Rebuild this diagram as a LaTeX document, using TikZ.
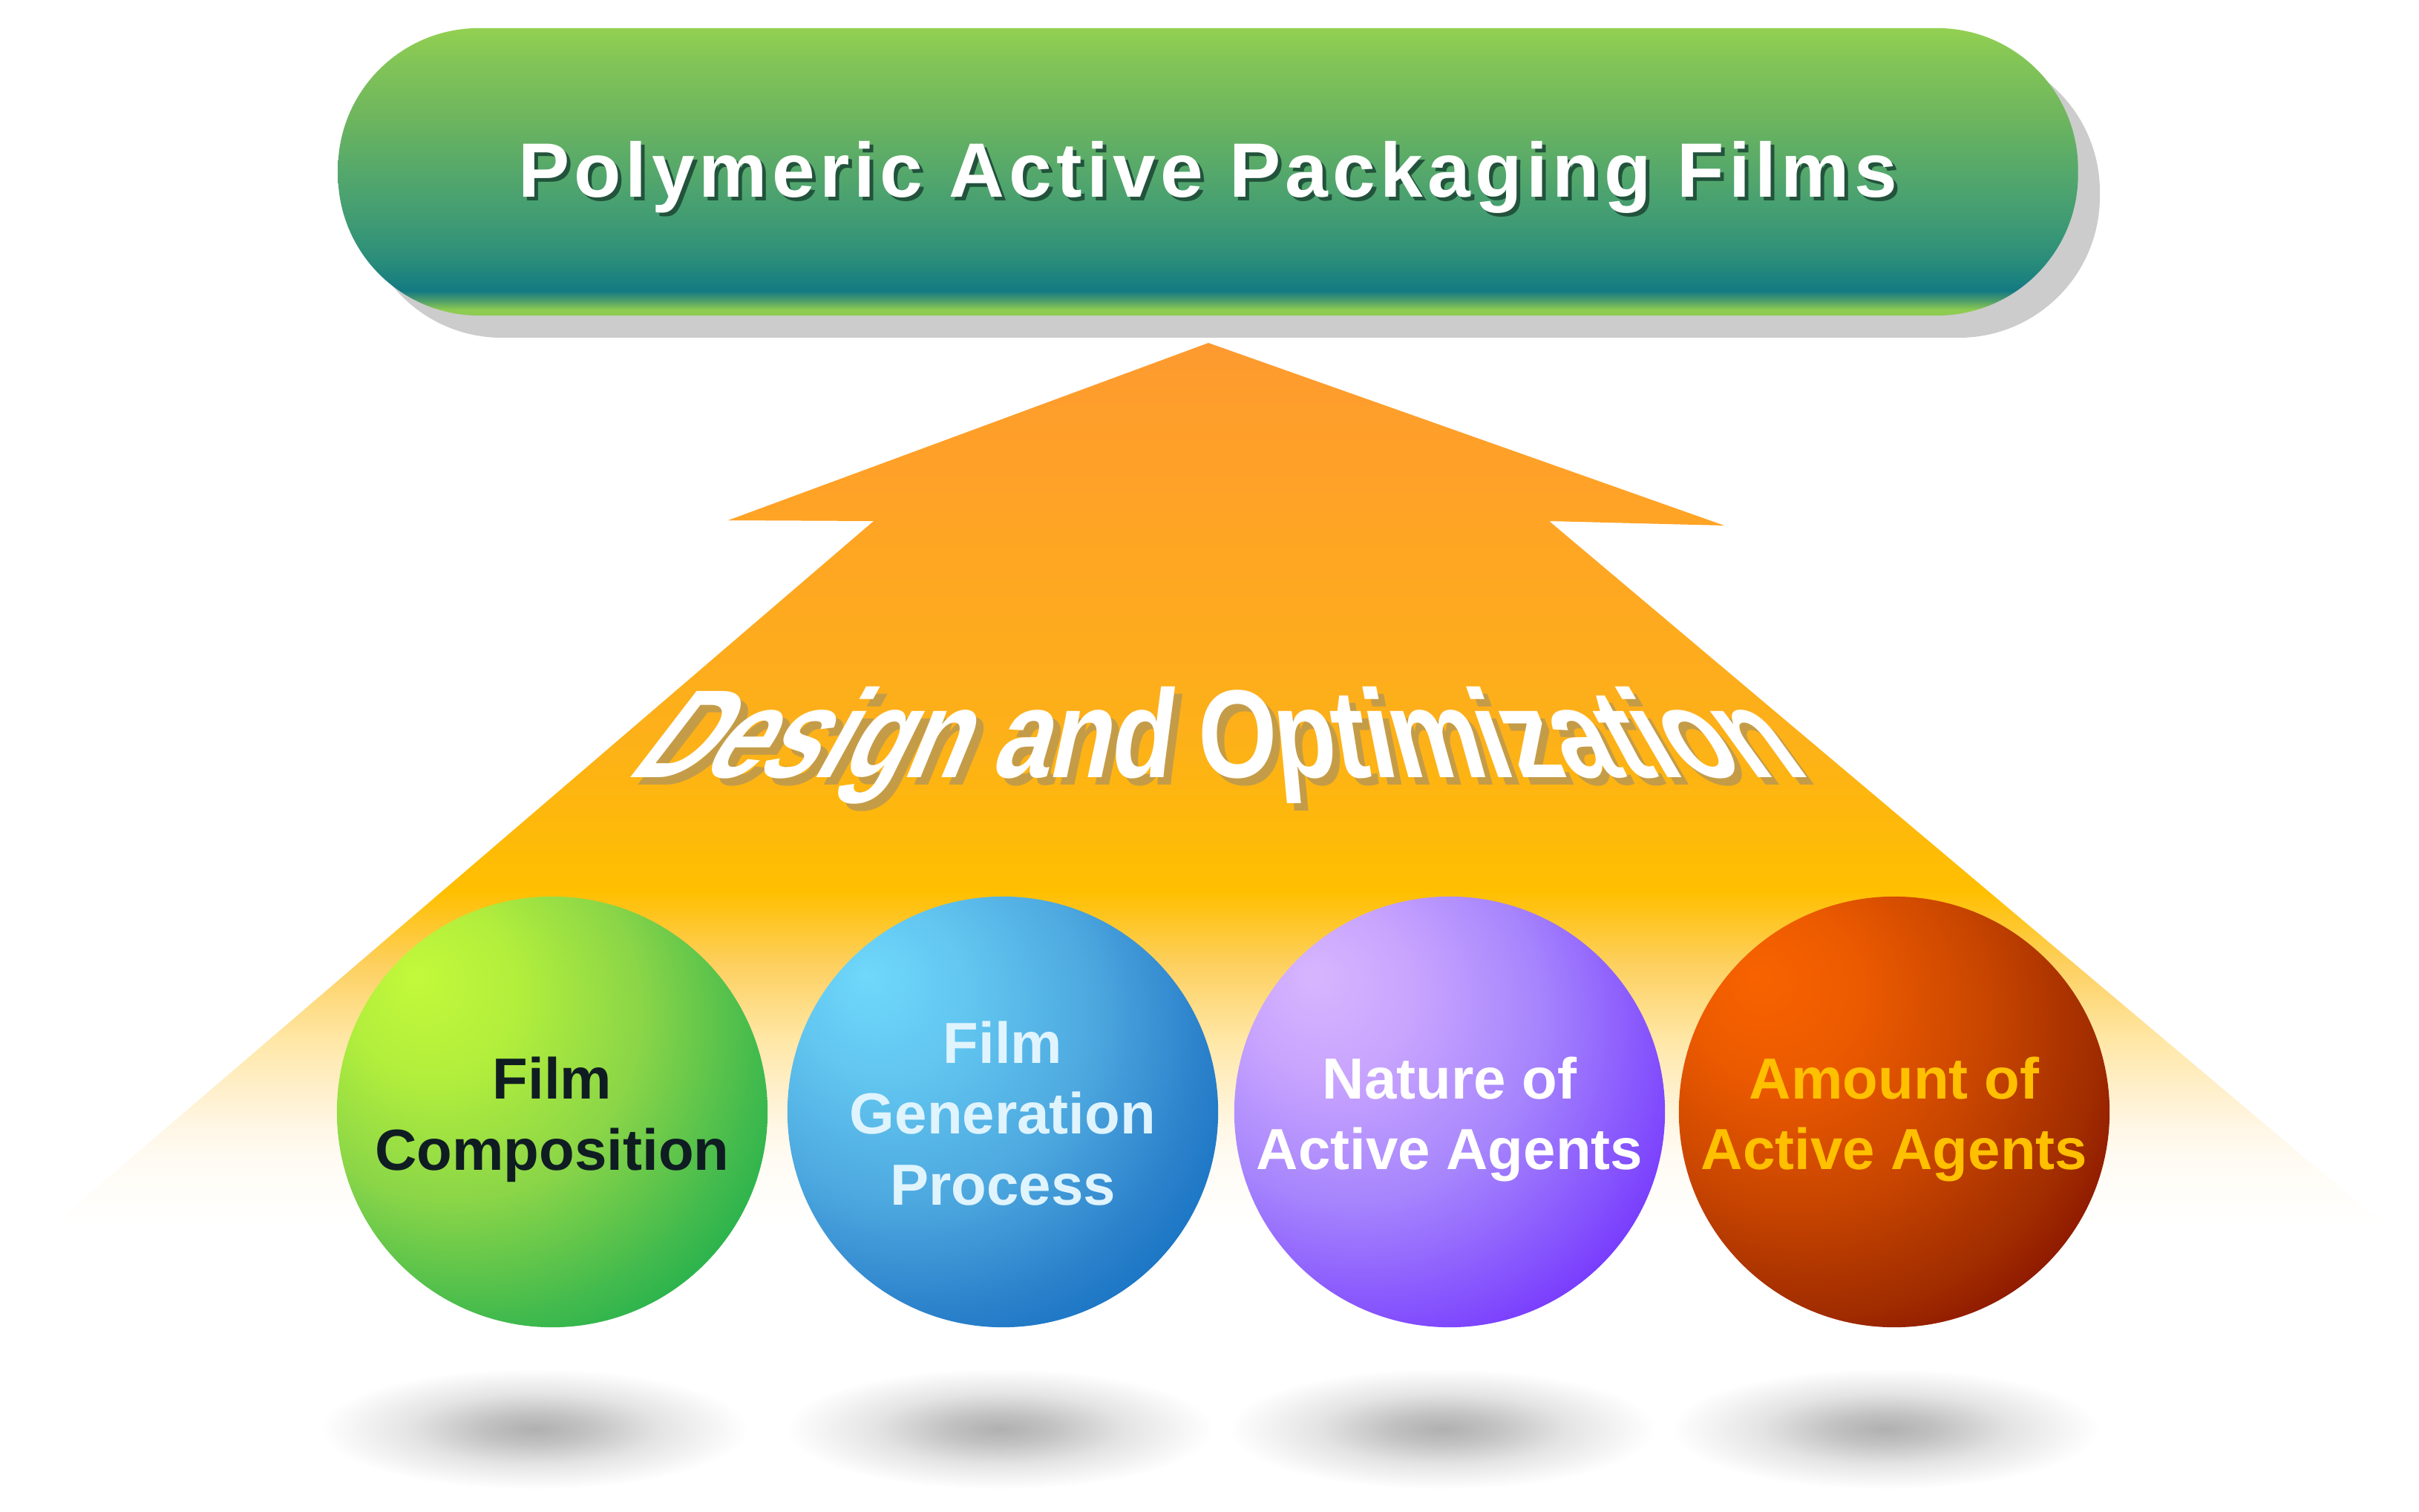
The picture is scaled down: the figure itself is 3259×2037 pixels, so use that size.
\documentclass[tikz,border=0pt]{standalone}
\usepackage{fontspec}
\setmainfont{Liberation Sans}
\usetikzlibrary{shapes.geometric}

% pill colours
\definecolor{pillA}{HTML}{8DCC50}
\definecolor{pillB}{HTML}{4F9E6A}
\definecolor{pillC}{HTML}{137A82}
\definecolor{pillD}{HTML}{2A8D7A}
\definecolor{pillE}{HTML}{3F9B74}
\definecolor{pillF}{HTML}{55A86B}
\definecolor{pillG}{HTML}{70B75D}
\definecolor{pillH}{HTML}{83C557}
\definecolor{pillI}{HTML}{93D051}
\definecolor{pillgray}{HTML}{CCCCCC}
\definecolor{titleshadow}{HTML}{22533C}
% arrow colours
\definecolor{arA}{HTML}{FFFBF3}
\definecolor{arB}{HTML}{FFF7E6}
\definecolor{arC}{HTML}{FFF0CC}
\definecolor{arD}{HTML}{FFE7A6}
\definecolor{arE}{HTML}{FDD060}
\definecolor{arF}{HTML}{FFBF00}
\definecolor{arG}{HTML}{FDB118}
\definecolor{arH}{HTML}{FFA425}
\definecolor{arI}{HTML}{FE9A2F}
\definecolor{dshadow}{RGB}{196,156,72}
% ball colours
\definecolor{gA}{HTML}{C3F93A}\definecolor{gB}{HTML}{B2EE3C}\definecolor{gC}{HTML}{8AD548}\definecolor{gD}{HTML}{45BB4D}\definecolor{gE}{HTML}{10AB4C}
\definecolor{bA}{HTML}{70D8FB}\definecolor{bB}{HTML}{62C6F0}\definecolor{bC}{HTML}{4DA8DF}\definecolor{bD}{HTML}{2B80CA}\definecolor{bE}{HTML}{0A6CC0}
\definecolor{vA}{HTML}{D8B6FE}\definecolor{vB}{HTML}{C8A4FE}\definecolor{vC}{HTML}{A685FD}\definecolor{vD}{HTML}{8552FD}\definecolor{vE}{HTML}{6A24FE}
\definecolor{oA}{HTML}{F86300}\definecolor{oB}{HTML}{EC5A00}\definecolor{oC}{HTML}{C94600}\definecolor{oD}{HTML}{A02C00}\definecolor{oE}{HTML}{7C0600}
\definecolor{txtdark}{HTML}{0F1D22}
\definecolor{txtblue}{HTML}{E0F4FE}
\definecolor{txtgold}{HTML}{FFC000}
\definecolor{shA}{HTML}{B0B0B0}\definecolor{shB}{HTML}{C2C2C2}\definecolor{shC}{HTML}{E4E4E4}

\pgfdeclareverticalshading{pillshade}{100bp}{color(0bp)=(pillA); color(26bp)=(pillA); color(27.6bp)=(pillB); color(29.3bp)=(pillC); color(34.7bp)=(pillD); color(41.2bp)=(pillE); color(50bp)=(pillF); color(60.5bp)=(pillG); color(69.6bp)=(pillH); color(75bp)=(pillI); color(100bp)=(pillI)}
\pgfdeclareverticalshading{arrowshade}{100bp}{color(0bp)=(white); color(25bp)=(white); color(28.8bp)=(arA); color(30.5bp)=(arB); color(32.6bp)=(arC); color(35.5bp)=(arD); color(39.7bp)=(arE); color(43.9bp)=(arF); color(52.4bp)=(arG); color(65bp)=(arH); color(75bp)=(arI); color(100bp)=(arI)}
\pgfdeclareradialshading{ballgreen}{\pgfpoint{-16bp}{16bp}}{color(0bp)=(gA); color(10bp)=(gB); color(22bp)=(gC); color(33bp)=(gD); color(42bp)=(gE); color(80bp)=(gE)}
\pgfdeclareradialshading{ballblue}{\pgfpoint{-16bp}{16bp}}{color(0bp)=(bA); color(10bp)=(bB); color(22bp)=(bC); color(33bp)=(bD); color(42bp)=(bE); color(80bp)=(bE)}
\pgfdeclareradialshading{ballviolet}{\pgfpoint{-16bp}{16bp}}{color(0bp)=(vA); color(10bp)=(vB); color(22bp)=(vC); color(33bp)=(vD); color(42bp)=(vE); color(80bp)=(vE)}
\pgfdeclareradialshading{ballorange}{\pgfpoint{-16bp}{16bp}}{color(0bp)=(oA); color(10bp)=(oB); color(22bp)=(oC); color(33bp)=(oD); color(42bp)=(oE); color(80bp)=(oE)}
\pgfdeclareradialshading{blurshade}{\pgfpointorigin}{color(0bp)=(shA); color(6bp)=(shB); color(14bp)=(shC); color(24bp)=(white); color(50bp)=(white)}

\def\dlist{D/0.949, e/0.843, s/0.750, i/0.680, g/0.606, n/0.505, {\hspace*{.278em}}/0, a/0.361, n/0.263, d/0.162, {\hspace*{.278em}}/0, O/0.0, p/-0.116, t/-0.195, i/-0.245, m/-0.341, i/-0.439, z/-0.504, a/-0.591, t/-0.666, i/-0.717, o/-0.790, n/-0.893}

\begin{document}
\begin{tikzpicture}[x=0.01cm, y=-0.01cm,
  ball/.style={circle, minimum size=5.8cm, inner sep=0pt},
  balltext/.style={inner sep=0pt, align=center,
    font=\fontsize{22.2pt}{27.2pt}\selectfont\bfseries},
  blur/.style={shading=blurshade},
  dletter/.style={inner sep=0pt, outer sep=0pt, xscale=0.81,
    font=\fontsize{48pt}{56pt}\selectfont\bfseries},
  titlefont/.style={inner sep=0pt,
    font=\fontsize{29.5pt}{34pt}\selectfont\bfseries\addfontfeature{LetterSpace=6}}]
\useasboundingbox (0,0) rectangle (3259,2037);
\fill[white] (0,0) rectangle (3259,2037);

% top pill with shadow
\fill[pillgray, rounded corners=1.9cm] (486,68) rectangle (2829,455);
\node[shading=pillshade, rounded corners=1.9cm, minimum width=23.43cm,
  minimum height=3.87cm, inner sep=0pt] (pill) at (1627.5,231.5) {};
\node[titlefont, text=titleshadow, anchor=base] (titleshadow) at (1632,271) {Polymeric Active Packaging Films};
\node[titlefont, text=white, anchor=base] (title) at (1627,266) {Polymeric Active Packaging Films};

% big arrow
\shade[shading=arrowshade] (1628,462) -- (2323,708) -- (2087,702) -- (3212,1650)
  -- (72,1650) -- (1177,702) -- (981,701) -- cycle;

% Design and Optimization (perspective lettering)
\node[dletter, anchor=base east] (SL0) at (850,1058) {};
\foreach \ch/\sl [count=\i] in \dlist {
  \pgfmathtruncatemacro\j{\i-1}
  \node[dletter, text=dshadow, xslant=\sl, anchor=base west] (SL\i) at (SL\j.base east) {\ch};
}
\node[dletter, anchor=base east] (WL0) at (840,1048) {};
\foreach \ch/\sl [count=\i] in \dlist {
  \pgfmathtruncatemacro\j{\i-1}
  \node[dletter, text=white, xslant=\sl, anchor=base west] (WL\i) at (WL\j.base east) {\ch};
}

% floor shadows
\shade[blur] (720,1925) ellipse [x radius=3cm, y radius=0.85cm];
\shade[blur] (1347,1925) ellipse [x radius=3cm, y radius=0.85cm];
\shade[blur] (1943,1925) ellipse [x radius=3cm, y radius=0.85cm];
\shade[blur] (2540,1925) ellipse [x radius=3cm, y radius=0.85cm];

% balls
\node[ball, shading=ballgreen] (c1) at (744,1498) {};
\node[ball, shading=ballblue] (c2) at (1351,1498) {};
\node[ball, shading=ballviolet] (c3) at (1953,1498) {};
\node[ball, shading=ballorange] (c4) at (2552,1498) {};
\node[balltext, text=txtdark, yshift=-0.1cm] (t1) at (c1) {Film\\Composition};
\node[balltext, text=txtblue, yshift=-0.02cm] (t2) at (c2) {Film\\Generation\\Process};
\node[balltext, text=white, yshift=-0.1cm] (t3) at (c3) {Nature of\\Active Agents};
\node[balltext, text=txtgold, yshift=-0.1cm] (t4) at (c4) {Amount of\\Active Agents};
\end{tikzpicture}
\end{document}
